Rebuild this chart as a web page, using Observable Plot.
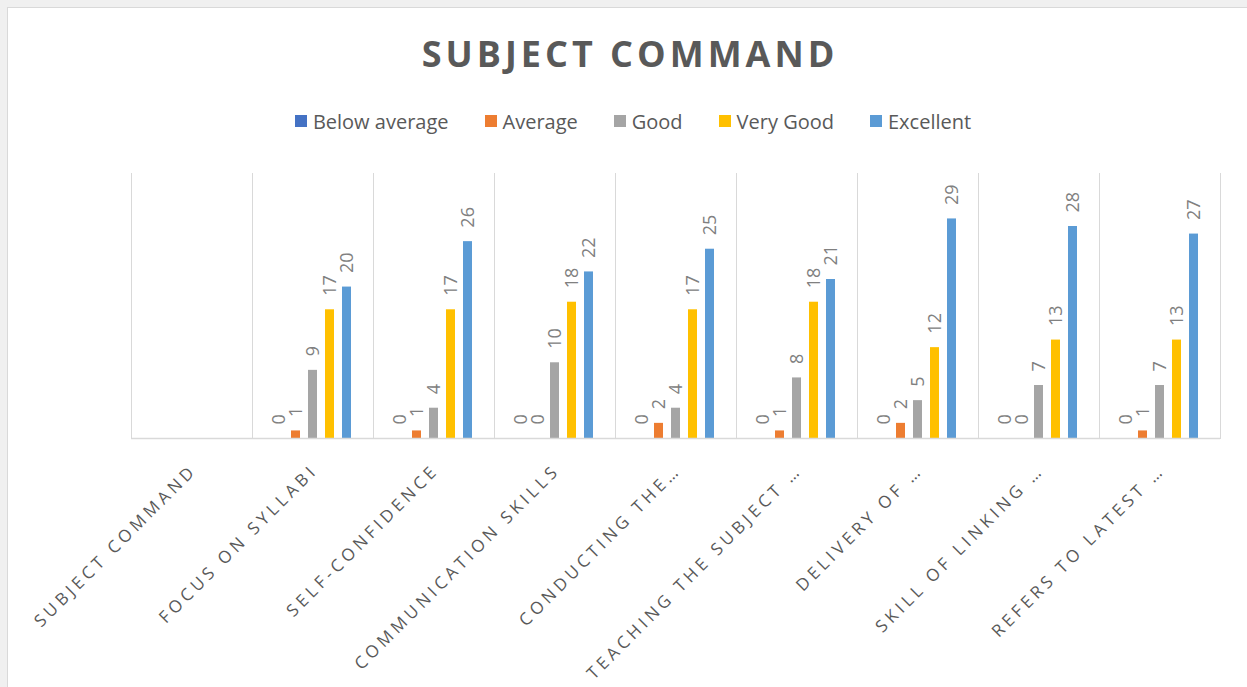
<!DOCTYPE html>
<html>
<head>
<meta charset="utf-8">
<script src="https://cdn.jsdelivr.net/npm/d3@7"></script>
<script src="https://cdn.jsdelivr.net/npm/@observablehq/plot@0.6"></script>
<style>
  html, body { margin: 0; padding: 0; background: #f0f0f0; overflow: hidden; }
  .box {
    position: absolute; left: 7px; top: 7px; width: 1240px; height: 700px;
    background: #fff; border-left: 1px solid #d9d9d9; border-top: 1px solid #d9d9d9;
    font-family: "Open Sans", sans-serif;
  }
  .title {
    margin: 0; padding-top: 22px; height: 48px; line-height: 48px;
    text-align: center; font-size: 36px; font-weight: 700; letter-spacing: 4px;
    color: #595959; padding-left: 4px;
  }
  .legend {
    display: flex; justify-content: center; align-items: center;
    height: 30px; margin-top: 28px; font-size: 20px; color: #595959; padding-left: 10px;
  }
  .legend .item { display: flex; align-items: center; margin: 0 18px; }
  .legend .sw { width: 12px; height: 12px; margin-right: 6px; display: inline-block; }
  #chart svg g[aria-label="fx-axis tick label"] text { letter-spacing: 4px; }
</style>
</head>
<body>
<div class="box">
  <div class="title">SUBJECT COMMAND</div>
  <div class="legend" id="legend"></div>
  <div id="chart"></div>
</div>
<script>
const categories = [
  "SUBJECT COMMAND", "FOCUS ON SYLLABI", "SELF-CONFIDENCE", "COMMUNICATION SKILLS",
  "CONDUCTING THE…", "TEACHING THE SUBJECT …", "DELIVERY OF …", "SKILL OF LINKING …", "REFERS TO LATEST …"
];
const series = ["Below average", "Average", "Good", "Very Good", "Excellent"];
const colors = ["#4472C4", "#ED7D31", "#A5A5A5", "#FFC000", "#5B9BD5"];
const belowAverage = [null, 0, 0, 0, 0, 0, 0, 0, 0];
const average      = [null, 1, 1, 0, 2, 1, 2, 0, 1];
const good         = [null, 9, 4, 10, 4, 8, 5, 7, 7];
const veryGood     = [null, 17, 17, 18, 17, 18, 12, 13, 13];
const excellent    = [null, 20, 26, 22, 25, 21, 29, 28, 27];

const seriesValues = [belowAverage, average, good, veryGood, excellent];
const rows = [];
categories.forEach((c, i) => {
  series.forEach((s, j) => {
    rows.push({category: c, series: s, value: seriesValues[j][i]});
  });
});

// legend
const legend = document.getElementById("legend");
series.forEach((s, j) => {
  const item = document.createElement("div");
  item.className = "item";
  const sw = document.createElement("span");
  sw.className = "sw";
  sw.style.background = colors[j];
  const t = document.createElement("span");
  t.textContent = s;
  item.appendChild(sw); item.appendChild(t);
  legend.appendChild(item);
});

const chart = Plot.plot({
  width: 1239,
  height: 551,
  marginLeft: 122,
  marginRight: 26,
  marginTop: 37,
  marginBottom: 249,
  style: {fontFamily: "Open Sans", background: "transparent", overflow: "visible"},
  fx: {domain: categories, padding: 0, label: null, axis: null},
  x: {domain: series, paddingInner: 0.46, paddingOuter: 1.155, axis: null},
  y: {domain: [0, 35], axis: null},
  color: {domain: series, range: colors},
  marks: [
    Plot.frame({anchor: "left", stroke: "#d9d9d9", strokeOpacity: 1}),
    Plot.frame({anchor: "right", stroke: "#d9d9d9", strokeOpacity: 1}),
    Plot.barY(rows, {fx: "category", x: "series", y: "value", fill: "series"}),
    Plot.ruleY([0], {stroke: "#d9d9d9", strokeWidth: 1.5}),
    Plot.text(rows.filter(d => d.value != null), {
      fx: "category", x: "series", y: "value", text: d => String(d.value),
      rotate: -90, textAnchor: "start", lineAnchor: "middle",
      dy: -14, fill: "#808080", fontSize: 18
    }),
    Plot.axisFx({
      anchor: "bottom", tickRotate: -45, tickSize: 0, tickPadding: 0,
      fontSize: 17, fill: "#595959", label: null, dx: 2, dy: 29
    })
  ]
});
document.getElementById("chart").appendChild(chart);
</script>
</body>
</html>
